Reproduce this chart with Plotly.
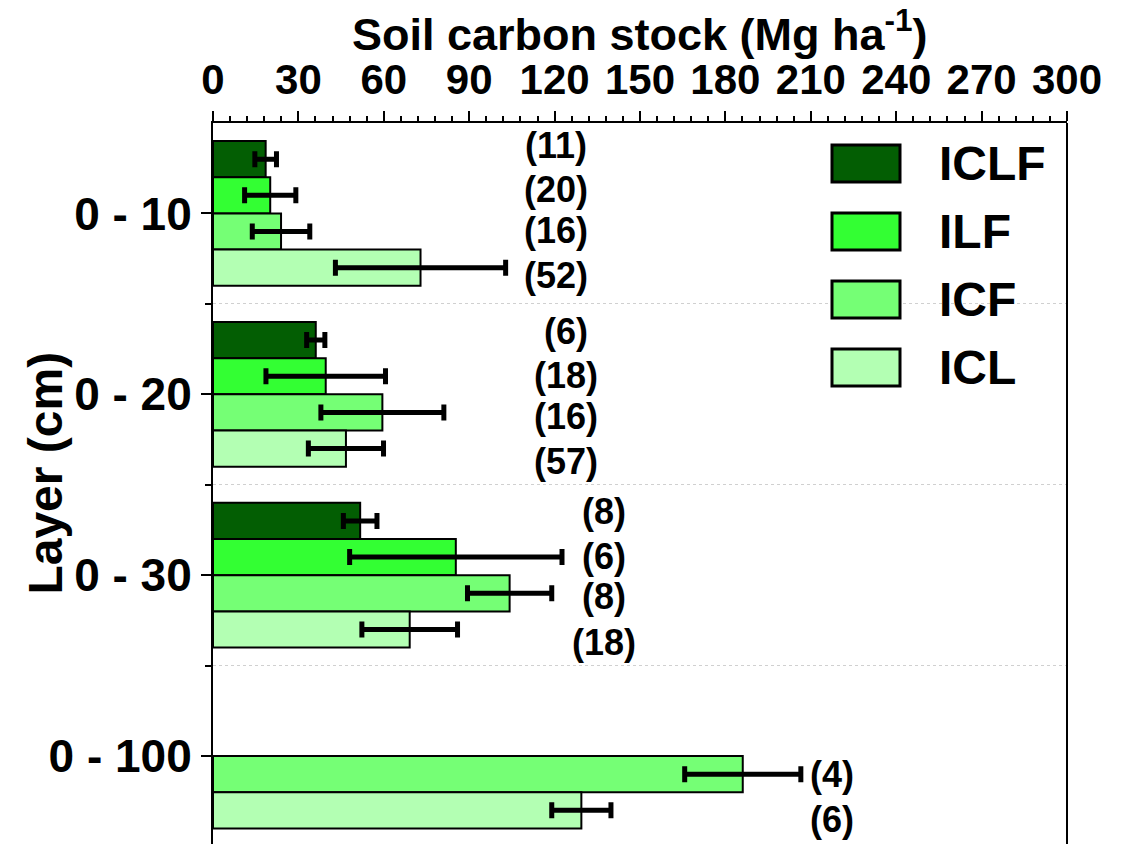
import plotly.graph_objects as go

# ---------------- data ----------------
layers = ["0 - 10", "0 - 20", "0 - 30", "0 - 100"]
series = ["ICLF", "ILF", "ICF", "ICL"]

iclf_mean = [18.5, 36.1, 51.7, None]
iclf_err = [3.8, 3.2, 5.9, None]
ilf_mean = [20.1, 39.6, 85.3, None]
ilf_err = [9.0, 21.0, 37.3, None]
icf_mean = [23.9, 59.5, 104.2, 186.1]
icf_err = [10.1, 21.6, 14.8, 20.4]
icl_mean = [72.9, 46.7, 69.1, 129.4]
icl_err = [29.9, 13.2, 16.8, 10.4]

iclf_n = [11, 6, 8, None]
ilf_n = [20, 18, 6, None]
icf_n = [16, 16, 8, 4]
icl_n = [52, 57, 18, 6]

x_ticks = [0, 30, 60, 90, 120, 150, 180, 210, 240, 270, 300]

# ---------------- style ----------------
colors = ["#035E03", "#33FF33", "#75FF75", "#B3FFB3"]
FONT = "Liberation Sans, Arial, sans-serif"
label_x = [120.5, 124.0, 137.5, 217.5]        # label x-centres per layer (data units)
label_dy = [-0.35, -0.105, 0.12, 0.37]        # label offsets per series (category units)
label_dy_layer = [-0.025, 0.0, 0.0, -0.02]    # small per-layer vertical nudges

means = [iclf_mean, ilf_mean, icf_mean, icl_mean]
errs = [iclf_err, ilf_err, icf_err, icl_err]
ns = [iclf_n, ilf_n, icf_n, icl_n]
ypos = list(range(len(layers)))

fig = go.Figure()
for name, m, e, c in zip(series, means, errs, colors):
    fig.add_trace(go.Bar(
        name=name, x=m, y=ypos, orientation="h",
        marker=dict(color=c, line=dict(color="black", width=2)),
        error_x=dict(type="data", array=e, thickness=5, width=8, color="black"),
        showlegend=False,
    ))

annotations = []
for i, nlist in enumerate(ns):
    for j, n in enumerate(nlist):
        if n is None:
            continue
        annotations.append(dict(
            x=label_x[j], y=j + label_dy[i] + label_dy_layer[j], xref="x", yref="y",
            text=f"({n})", showarrow=False, xanchor="center", yanchor="middle",
            font=dict(family=FONT, size=36, color="black", weight="bold"),
        ))

# axis titles
annotations.append(dict(
    x=0.5, y=1.128, xref="paper", yref="paper",
    text="Soil carbon stock (Mg ha<sup>-1</sup>)", showarrow=False,
    xanchor="center", yanchor="middle",
    font=dict(family=FONT, size=45, color="black", weight="bold"),
))
annotations.append(dict(
    x=-0.196, y=0.5146, xref="paper", yref="paper",
    text="Layer (cm)", showarrow=False, textangle=-90,
    xanchor="center", yanchor="middle",
    font=dict(family=FONT, size=48, color="black", weight="bold"),
))

# custom legend
shapes = []
plot_l, plot_w, plot_t, plot_h = 213, 854, 123, 721
def px_x(p):
    return (p - plot_l) / plot_w
def px_y(p):
    return 1 - (p - plot_t) / plot_h
for i, (name, c) in enumerate(zip(series, colors)):
    top = 145 + 68 * i
    shapes.append(dict(
        type="rect", xref="paper", yref="paper",
        x0=px_x(832), x1=px_x(900), y0=px_y(top + 37), y1=px_y(top),
        fillcolor=c, line=dict(color="black", width=3),
    ))
    annotations.append(dict(
        x=px_x(937), y=px_y(top + 18.5), xref="paper", yref="paper",
        text=name, showarrow=False, xanchor="left", yanchor="middle",
        font=dict(family=FONT, size=48, color="black", weight="bold"),
    ))

# right frame line
shapes.append(dict(type="line", xref="paper", yref="paper", x0=1, x1=1, y0=0, y1=1,
                   line=dict(color="black", width=2)))

fig.update_layout(
    width=1125, height=844,
    margin=dict(l=213, r=58, t=123, b=0),
    plot_bgcolor="white", paper_bgcolor="white",
    barmode="group", bargap=0.2, bargroupgap=0,
    annotations=annotations, shapes=shapes,
    showlegend=False,
    font=dict(family=FONT, color="black"),
)
fig.update_xaxes(
    side="top", range=[0, 300], tickvals=x_ticks, ticktext=[str(v) for v in x_ticks],
    showline=True, linecolor="black", linewidth=2,
    ticks="outside", ticklen=10, tickwidth=2, tickcolor="black",
    minor=dict(dtick=6, ticks="outside", ticklen=5, tickwidth=2, tickcolor="black"),
    showgrid=False, zeroline=False,
    tickfont=dict(family=FONT, size=42, color="black", weight="bold"),
)
fig.update_yaxes(
    range=[3.486, -0.5], tickvals=ypos, ticktext=layers,
    showline=True, linecolor="black", linewidth=2,
    ticks="outside", ticklen=10, tickwidth=2, tickcolor="black",
    minor=dict(tickvals=[0.5, 1.5, 2.5], ticks="outside", ticklen=6, tickwidth=2,
               tickcolor="black", showgrid=True, gridcolor="#d0d0d0", griddash="dot",
               gridwidth=1),
    showgrid=False, zeroline=False,
    tickfont=dict(family=FONT, size=46, color="black", weight="bold"),
)

fig.write_html("out.html")
